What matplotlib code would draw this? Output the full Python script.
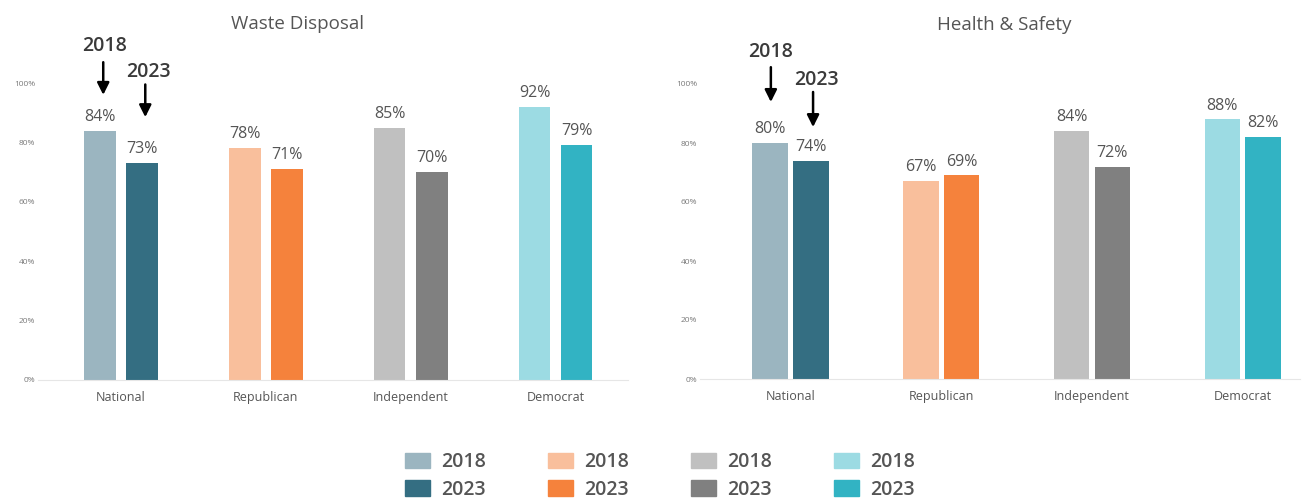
import matplotlib.pyplot as plt
from matplotlib.patches import Patch
import numpy as np

plt.rcParams['font.family'] = ['Open Sans', 'DejaVu Sans']

groups = ['National', 'Republican', 'Independent', 'Democrat']
waste_2018 = [84, 78, 85, 92]
waste_2023 = [73, 71, 70, 79]
health_2018 = [80, 67, 84, 88]
health_2023 = [74, 69, 72, 82]
yticks = [0, 20, 40, 60, 80, 100]

c2018 = ['#9bb5c0', '#f9bf9c', '#c0c0c0', '#9cdbe3']
c2023 = ['#346e82', '#f5823c', '#808080', '#32b3c3']
txt = '#555555'


def panel(ax, title, tx, v18, v23, width, off, xlim, arrows):
    x = np.arange(len(groups))
    b1 = ax.bar(x - off, v18, width, color=c2018)
    b2 = ax.bar(x + off, v23, width, color=c2023)
    for bars, vals in ((b1, v18), (b2, v23)):
        for b, v in zip(bars, vals):
            ax.text(b.get_x() + b.get_width() / 2, v + 2, '%d%%' % v,
                    ha='center', va='bottom', fontsize=11.5, color=txt)
    ax.set_ylim(0, 100)
    ax.set_xlim(*xlim)
    ax.set_yticks(yticks)
    ax.set_yticklabels(['%d%%' % t for t in yticks], fontsize=6, color='#7a7a7a')
    ax.set_xticks(x)
    ax.set_xticklabels(groups, fontsize=9, color=txt)
    ax.tick_params(length=0, axis='y', pad=2)
    ax.tick_params(length=0, axis='x', pad=8)
    for s in ['top', 'right', 'left']:
        ax.spines[s].set_visible(False)
    ax.spines['bottom'].set_color('#e6e6e6')
    ax.text(tx, 1.2, title, transform=ax.transAxes, ha='center',
            va='center', fontsize=13.5, color=txt)
    # year arrows over the National bars
    for xt, xo, ytxt, ytop, ytip, lab in arrows:
        ax.text(xt, ytxt, lab, ha='center', va='center', fontsize=14,
                fontweight='semibold', color='#3a3a3a', clip_on=False)
        ax.annotate('', xy=(xo, ytip), xytext=(xo, ytop),
                    arrowprops=dict(arrowstyle='-|>', color='black', lw=1.8,
                                    mutation_scale=18, shrinkA=0, shrinkB=0),
                    annotation_clip=False)


fig = plt.figure(figsize=(13.14, 4.99), dpi=100)
ax1 = fig.add_axes([38 / 1314, 1 - 380 / 499, 590 / 1314, 297 / 499])
ax2 = fig.add_axes([700 / 1314, 1 - 379 / 499, 600 / 1314, 295 / 499])

panel(ax1, 'Waste Disposal', 0.439, waste_2018, waste_2023, 0.22, 0.145, (-0.57, 3.5),
      [(-0.11, -0.12, 112.5, 107, 96, '2018'), (0.19, 0.17, 103.7, 99.5, 88.5, '2023')])
panel(ax2, 'Health & Safety', 0.507, health_2018, health_2023, 0.235, 0.135, (-0.6, 3.38),
      [(-0.13, -0.13, 110.8, 105.7, 93.9, '2018'), (0.17, 0.15, 101.4, 97.3, 85.4, '2023')])

handles = []
labels = []
for a, b in zip(c2018, c2023):
    handles += [Patch(color=a), Patch(color=b)]
    labels += ['2018', '2023']
leg = fig.legend(handles, labels, ncol=4, loc='center',
                 bbox_to_anchor=(660 / 1314, 1 - 476 / 499), frameon=False,
                 prop={'size': 14, 'weight': 'semibold'},
                 handlelength=1.3, handleheight=0.85, handletextpad=0.55,
                 columnspacing=3.2, labelspacing=0.4)
for t in leg.get_texts():
    t.set_color(txt)

fig.savefig('out.png', dpi=100, facecolor='white')
